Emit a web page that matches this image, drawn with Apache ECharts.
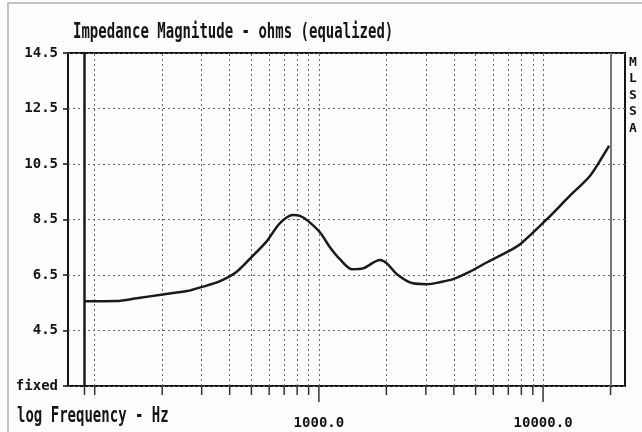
<!DOCTYPE html>
<html><head><meta charset="utf-8">
<script src="https://cdn.jsdelivr.net/npm/echarts@6/dist/echarts.min.js"></script>
<style>html,body{margin:0;padding:0;background:#fdfdfd}#c{width:642px;height:432px}</style>
</head><body><div id="c"></div>
<script>
// Frequency (Hz) and impedance magnitude (ohms)
const freqs = [90, 125, 154, 201, 258, 304, 362, 430, 507, 586, 669, 765, 823, 893, 1010, 1120, 1240, 1404, 1572, 1872, 2010, 2228, 2627, 3034, 3467, 3965, 4720, 5630, 6630, 7901, 10400, 13150, 16180, 18500, 19700];
const impedance = [5.55, 5.56, 5.66, 5.80, 5.92, 6.08, 6.28, 6.62, 7.19, 7.72, 8.36, 8.66, 8.63, 8.45, 8.04, 7.50, 7.07, 6.71, 6.74, 7.04, 6.92, 6.53, 6.20, 6.17, 6.24, 6.35, 6.62, 6.96, 7.25, 7.61, 8.51, 9.35, 10.07, 10.79, 11.15];
const gridFreqs = [100, 200, 300, 400, 500, 600, 700, 800, 900, 1000, 2000, 3000, 4000, 5000, 6000, 7000, 8000, 9000, 10000];
const markerFreqs = [90, 20000];
const labelFreqs = [1000, 10000];
const yLabels = ['fixed', '4.5', '6.5', '8.5', '10.5', '12.5', '14.5'];
const xMin = 76, xMax = 23200, yMin = 2.5, yMax = 14.5, yStep = 2;
const titleText = 'Impedance Magnitude - ohms (equalized)';
const xName = 'log Frequency - Hz';
const sideText = 'MLSSA';

const MONO = "'DejaVu Sans Mono', 'Liberation Mono', monospace";
const chart = echarts.init(document.getElementById('c'), null, {renderer: 'canvas'});
const tickData = gridFreqs.concat(markerFreqs).map(f => [f, yMin]);

chart.setOption({
  backgroundColor: '#fdfdfd',
  animation: false,
  grid: {left: 68, right: 17, top: 53, bottom: 46, show: true, borderColor: '#151515', borderWidth: 2, backgroundColor: 'transparent'},
  xAxis: {
    type: 'log', min: xMin, max: xMax, logBase: 10,
    axisLine: {show: false}, axisTick: {show: false}, splitLine: {show: false},
    axisLabel: {
      margin: 30, color: '#151515', fontFamily: MONO, fontWeight: 'bold', fontSize: 14,
      showMinLabel: false, showMaxLabel: false,
      formatter: v => labelFreqs.some(f => Math.abs(v - f) < 0.5) ? v.toFixed(1) : ''
    }
  },
  yAxis: {
    type: 'value', min: yMin, max: yMax, interval: yStep,
    axisLine: {show: false},
    axisTick: {show: true, length: 5, lineStyle: {color: '#151515', width: 1.5}},
    axisLabel: {
      margin: 10, color: '#151515', fontFamily: MONO, fontWeight: 'bold', fontSize: 14,
      formatter: v => yLabels[Math.round((v - yMin) / yStep)] || ''
    },
    splitLine: {show: true, lineStyle: {type: [2, 3], color: '#6a6a6a', width: 1}}
  },
  graphic: [
    {type: 'rect', shape: {x: 8, y: 3, width: 700, height: 500}, style: {fill: 'none', stroke: '#c4c0c8', lineWidth: 2}, silent: true},
    {type: 'text', x: 73, y: 23, scaleY: 1.45, style: {text: titleText, font: "bold 14px " + MONO, fill: '#151515', textVerticalAlign: 'top'}},
    {type: 'text', x: 17, y: 406, scaleY: 1.5, style: {text: xName, font: "bold 14px " + MONO, fill: '#151515', textVerticalAlign: 'top'}},
    {type: 'text', x: 629, y: 54, style: {text: sideText.split('').join('\n'), font: "bold 13px " + MONO, lineHeight: 16.5, fill: '#151515', textVerticalAlign: 'top'}}
  ],
  series: [
    {
      type: 'line', data: freqs.map((f, i) => [f, impedance[i]]),
      showSymbol: false, smooth: 0.3, z: 5,
      lineStyle: {color: '#1a1a1a', width: 2.5},
      markLine: {
        silent: true, symbol: 'none', animation: false, z: 2,
        label: {show: false},
        lineStyle: {type: [2, 3], color: '#6a6a6a', width: 1},
        data: gridFreqs.map(f => ({xAxis: f})).concat([
          {xAxis: markerFreqs[0], lineStyle: {type: 'solid', color: '#1a1a1a', width: 2.5}},
          {xAxis: markerFreqs[1], lineStyle: {type: 'solid', color: '#777', width: 2}}
        ])
      }
    },
    {
      type: 'custom', clip: false, silent: true, data: tickData, encode: {x: 0, y: 1},
      renderItem: (params, api) => {
        const f = api.value(0);
        const p = api.coord([f, api.value(1)]);
        const long = labelFreqs.indexOf(f) >= 0;
        return {type: 'line', shape: {x1: p[0], y1: p[1], x2: p[0], y2: p[1] + (long ? 16 : 9)},
                style: {stroke: '#333', lineWidth: 1.5}};
      }
    }
  ]
});
</script></body></html>
